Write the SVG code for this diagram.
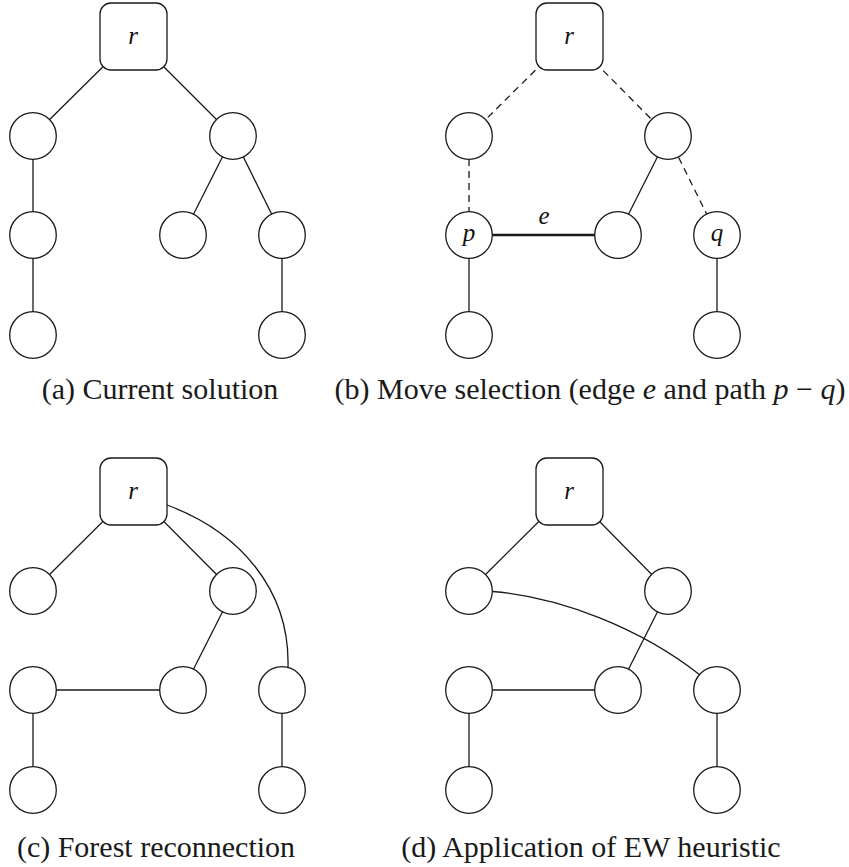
<svg xmlns="http://www.w3.org/2000/svg" width="849" height="867" viewBox="0 0 849 867">
  <style>
    .edge { stroke: #1a1a1a; stroke-width: 1.3; fill: none; }
    .dash { stroke-dasharray: 7 5; }
    .bold { stroke-width: 2.4; }
    .node { fill: #ffffff; stroke: #1a1a1a; stroke-width: 1.3; }
    .lbl { font-family: "Liberation Serif", "Times New Roman", serif; font-style: italic; font-size: 25px; fill: #111; text-anchor: middle; }
    .cap { font-family: "Liberation Serif", "Times New Roman", serif; font-size: 30px; fill: #1a1a1a; text-anchor: middle; }
    .it { font-style: italic; }
  </style>
  <defs>
    <rect id="rootbox" x="0" y="0" width="67" height="67" rx="11" ry="11"/>
    <circle id="vert" cx="0" cy="0" r="23.3"/>
  </defs>

  <!-- connectors -->
  <g id="connectors">
    <!-- (a) -->
    <line class="edge" x1="133.5" y1="36.5" x2="33" y2="136"/>
    <line class="edge" x1="133.5" y1="36.5" x2="233" y2="136"/>
    <line class="edge" x1="33" y1="136" x2="33" y2="235"/>
    <line class="edge" x1="233" y1="136" x2="183" y2="235"/>
    <line class="edge" x1="233" y1="136" x2="282" y2="235"/>
    <line class="edge" x1="33" y1="235" x2="33" y2="335"/>
    <line class="edge" x1="282" y1="235" x2="282" y2="335"/>
    <!-- (b) -->
    <line class="edge dash" x1="569.5" y1="36.5" x2="469" y2="136"/>
    <line class="edge dash" x1="569.5" y1="36.5" x2="668" y2="136"/>
    <line class="edge dash" x1="469" y1="159" x2="469" y2="212"/>
    <line class="edge dash" x1="668" y1="136" x2="717" y2="235"/>
    <line class="edge" x1="668" y1="136" x2="618" y2="235"/>
    <line class="edge bold" x1="469" y1="235" x2="618" y2="235"/>
    <line class="edge" x1="469" y1="235" x2="469" y2="335"/>
    <line class="edge" x1="717" y1="235" x2="717" y2="335"/>
    <!-- (c) -->
    <line class="edge" x1="133.5" y1="491" x2="33" y2="591"/>
    <line class="edge" x1="133.5" y1="491" x2="233" y2="591"/>
    <line class="edge" x1="233" y1="591" x2="183" y2="690"/>
    <line class="edge" x1="33" y1="690" x2="183" y2="690"/>
    <line class="edge" x1="33" y1="690" x2="33" y2="790"/>
    <line class="edge" x1="282" y1="690" x2="282" y2="790"/>
    <path class="edge" d="M167,505 C240,532 290,590 288,667"/>
    <!-- (d) -->
    <line class="edge" x1="569.5" y1="491" x2="469" y2="591"/>
    <line class="edge" x1="569.5" y1="491" x2="668" y2="591"/>
    <line class="edge" x1="668" y1="591" x2="618" y2="690"/>
    <line class="edge" x1="469" y1="690" x2="618" y2="690"/>
    <line class="edge" x1="469" y1="690" x2="469" y2="790"/>
    <line class="edge" x1="717" y1="690" x2="717" y2="790"/>
    <path class="edge" d="M492.5,591.5 C560,597 640,628 700,675"/>
  </g>

  <!-- (a) Current solution -->
  <g id="a-root"><use href="#rootbox" class="node" x="100" y="3"/><text class="lbl" x="133" y="44">r</text></g>
  <g id="a-n1"><use href="#vert" class="node" x="33" y="136"/></g>
  <g id="a-n2"><use href="#vert" class="node" x="233" y="136"/></g>
  <g id="a-n3"><use href="#vert" class="node" x="33" y="235"/></g>
  <g id="a-n4"><use href="#vert" class="node" x="183" y="235"/></g>
  <g id="a-n5"><use href="#vert" class="node" x="282" y="235"/></g>
  <g id="a-n6"><use href="#vert" class="node" x="33" y="335"/></g>
  <g id="a-n7"><use href="#vert" class="node" x="282" y="335"/></g>

  <!-- (b) Move selection -->
  <g id="b-root"><use href="#rootbox" class="node" x="536" y="3"/><text class="lbl" x="569" y="44">r</text></g>
  <g id="b-n1"><use href="#vert" class="node" x="469" y="136"/></g>
  <g id="b-n2"><use href="#vert" class="node" x="668" y="136"/></g>
  <g id="b-p"><use href="#vert" class="node" x="469" y="235"/><text class="lbl" x="469" y="241">p</text></g>
  <g id="b-n4"><use href="#vert" class="node" x="618" y="235"/></g>
  <g id="b-q"><use href="#vert" class="node" x="717" y="235"/><text class="lbl" x="717" y="241">q</text></g>
  <g id="b-n6"><use href="#vert" class="node" x="469" y="335"/></g>
  <g id="b-n7"><use href="#vert" class="node" x="717" y="335"/></g>
  <text class="lbl" x="544" y="224">e</text>

  <!-- (c) Forest reconnection -->
  <g id="c-root"><use href="#rootbox" class="node" x="100" y="458"/><text class="lbl" x="133" y="499">r</text></g>
  <g id="c-n1"><use href="#vert" class="node" x="33" y="591"/></g>
  <g id="c-n2"><use href="#vert" class="node" x="233" y="591"/></g>
  <g id="c-n3"><use href="#vert" class="node" x="33" y="690"/></g>
  <g id="c-n4"><use href="#vert" class="node" x="183" y="690"/></g>
  <g id="c-n5"><use href="#vert" class="node" x="282" y="690"/></g>
  <g id="c-n6"><use href="#vert" class="node" x="33" y="790"/></g>
  <g id="c-n7"><use href="#vert" class="node" x="282" y="790"/></g>

  <!-- (d) Application of EW heuristic -->
  <g id="d-root"><use href="#rootbox" class="node" x="536" y="458"/><text class="lbl" x="569" y="499">r</text></g>
  <g id="d-n1"><use href="#vert" class="node" x="469" y="591"/></g>
  <g id="d-n2"><use href="#vert" class="node" x="668" y="591"/></g>
  <g id="d-n3"><use href="#vert" class="node" x="469" y="690"/></g>
  <g id="d-n4"><use href="#vert" class="node" x="618" y="690"/></g>
  <g id="d-n5"><use href="#vert" class="node" x="717" y="690"/></g>
  <g id="d-n6"><use href="#vert" class="node" x="469" y="790"/></g>
  <g id="d-n7"><use href="#vert" class="node" x="717" y="790"/></g>

  <!-- captions -->
  <text class="cap" x="160" y="399">(a) Current solution</text>
  <text class="cap" x="590" y="399">(b) Move selection (edge <tspan class="it">e</tspan> and path <tspan class="it">p</tspan> − <tspan class="it">q</tspan>)</text>
  <text class="cap" x="156" y="857">(c) Forest reconnection</text>
  <text class="cap" x="591" y="857">(d) Application of EW heuristic</text>
</svg>
